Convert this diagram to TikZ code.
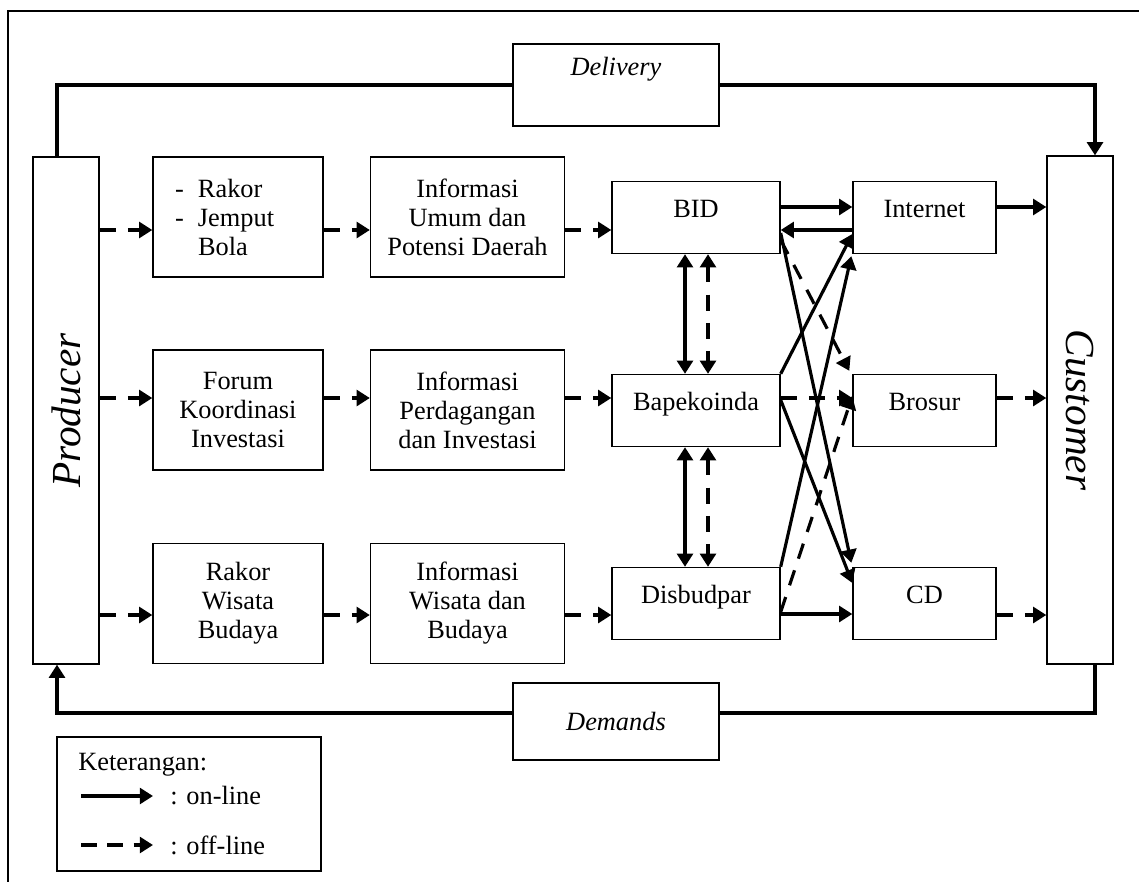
\documentclass[tikz,border=0pt]{standalone}
\usepackage{fontspec}
\setmainfont{Liberation Serif}
\usetikzlibrary{arrows.meta}

\begin{document}
\begin{tikzpicture}[x=0.02cm, y=-0.02cm,
	txt/.style={font=\fontsize{15}{16.5}\selectfont},
	box/.style={draw, line width=0.8pt, fill=white, align=center, inner sep=0pt, txt},
	lbox/.style={box, minimum height=2.4cm},
	rbox/.style={box, minimum height=1.44cm, text height=10pt, text depth=10pt},
	on/.style={line width=1.8pt, -{Triangle[length=7.5pt,width=9pt]}},
	off/.style={on, dash pattern=on 9pt off 7pt},
	big/.style={font=\fontsize{23.5}{26}\selectfont\itshape}]
	\clip (0,0) rectangle (1139,882);
	\draw[line width=0.8pt] (8,11) rectangle (1170,910);
	
	\node[box, minimum width=1.32cm, minimum height=10.14cm] (prod) at (66,410.5) {};
	\node[big, rotate=90] at (prod) {Producer};
	\node[box, minimum width=1.32cm, minimum height=10.16cm] (cust) at (1080,410) {};
	\node[big, rotate=-90] at (cust) {Customer};
	
	\node[lbox, minimum width=3.4cm, text width=2.52cm, align=left, inner xsep=0.44cm] (rakor) at (238,217)
		{\makebox[0.46cm][l]{-}Rakor\\ \makebox[0.46cm][l]{-}Jemput\\ \hspace*{0.46cm}Bola};
	\node[lbox, minimum width=3.88cm] (umum) at (467.5,217) {Informasi\\ Umum dan\\ Potensi Daerah};
	\node[lbox, minimum width=3.4cm] (forum) at (238,410) {Forum\\ Koordinasi\\ Investasi};
	\node[lbox, minimum width=3.88cm] (dagang) at (467.5,410) {Informasi\\ Perdagangan\\ dan Investasi};
	\node[lbox, minimum width=3.4cm] (wisata) at (238,603.5) {Rakor\\ Wisata\\ Budaya};
	\node[lbox, minimum width=3.88cm] (budaya) at (467.5,603.5) {Informasi\\ Wisata dan\\ Budaya};
	
	\node[rbox, minimum width=3.36cm] (bid) at (696,217.5) {BID};
	\node[rbox, minimum width=3.36cm] (bap) at (696,410.5) {Bapekoinda};
	\node[rbox, minimum width=3.36cm] (disb) at (696,603.5) {Disbudpar};
	\node[rbox, minimum width=2.86cm] (inet) at (924.5,217.5) {Internet};
	\node[rbox, minimum width=2.86cm] (bros) at (924.5,410.5) {Brosur};
	\node[rbox, minimum width=2.86cm] (cd) at (924.5,603.5) {CD};
	
	\draw[on] (57,0 |- prod.north) -- (57,85) -- (1095,85) -- (1095,0 |- cust.north);
	\draw[on] (1095,0 |- cust.south) -- (1095,713) -- (57,713) -- (57,0 |- prod.south);
	\node[box, minimum width=4.12cm, minimum height=1.64cm, font=\fontsize{15}{16.5}\selectfont\itshape,
		text height=8pt, text depth=19pt] (deliv) at (616,85) {Delivery};
	\node[box, minimum width=4.12cm, minimum height=1.54cm, font=\fontsize{15}{16.5}\selectfont\itshape]
		(dem) at (616,721.5) {Demands};
	
	\draw[off] (prod.east |- 0,230) -- (rakor.west |- 0,230);
	\draw[off] (rakor.east |- 0,230) -- (umum.west |- 0,230);
	\draw[off] (umum.east |- 0,230) -- (bid.west |- 0,230);
	\draw[off] (prod.east |- 0,398) -- (forum.west |- 0,398);
	\draw[off] (forum.east |- 0,398) -- (dagang.west |- 0,398);
	\draw[off] (dagang.east |- 0,398) -- (bap.west |- 0,398);
	\draw[off] (prod.east |- 0,615) -- (wisata.west |- 0,615);
	\draw[off] (wisata.east |- 0,615) -- (budaya.west |- 0,615);
	\draw[off] (budaya.east |- 0,615) -- (disb.west |- 0,615);
	
	\draw[on] (bid.east |- 0,207) -- (inet.west |- 0,207);
	\draw[on] (inet.west |- 0,230) -- (bid.east |- 0,230);
	\draw[on] (inet.east |- 0,207) -- (cust.west |- 0,207);
	\draw[off] (bap.east |- 0,398) -- (bros.west |- 0,398);
	\draw[off] (bros.east |- 0,398) -- (cust.west |- 0,398);
	\draw[on] (disb.east |- 0,614) -- (cd.west |- 0,614);
	\draw[off] (cd.east |- 0,615) -- (cust.west |- 0,615);
	
	\draw[on, {Triangle[length=7.5pt,width=9pt]}-{Triangle[length=7.5pt,width=9pt]}] (685,0 |- bid.south) -- (685,0 |- bap.north);
	\draw[off, {Triangle[length=7.5pt,width=9pt]}-{Triangle[length=7.5pt,width=9pt]}] (708,0 |- bid.south) -- (708,0 |- bap.north);
	\draw[on, {Triangle[length=7.5pt,width=9pt]}-{Triangle[length=7.5pt,width=9pt]}] (685,0 |- bap.south) -- (685,0 |- disb.north);
	\draw[off, {Triangle[length=7.5pt,width=9pt]}-{Triangle[length=7.5pt,width=9pt]}] (708,0 |- bap.south) -- (708,0 |- disb.north);
	
	\draw[on] (bid.east |- 0,233) -- ([shift={(-1,-4)}]cd.north west);
	\draw[off] (bid.east |- 0,240) -- ([shift={(-3,-3)}]bros.north west);
	\draw[on] (bap.north east) -- (inet.west |- 0,234);
	\draw[on] (bap.east |- 0,400) -- (cd.west |- 0,583);
	\draw[on] (disb.north east) -- ([shift={(-1,2)}]inet.south west);
	\draw[off] (disb.east |- 0,612) -- (bros.west |- 0,396);
	
	\node[draw, line width=0.8pt, minimum width=5.28cm, minimum height=2.68cm] (leg) at (189,804) {};
	\node[txt, anchor=west, inner sep=0pt] at (78,765) {Keterangan:};
	\draw[on] (81,796) -- (153,796);
	\node[txt, anchor=west, inner sep=0pt] at (170,796) {: on-line};
	\draw[off, dash pattern=on 9pt off 6pt] (81,845) -- (153,845);
	\node[txt, anchor=west, inner sep=0pt] at (170,845) {: off-line};
\end{tikzpicture}
\end{document}
